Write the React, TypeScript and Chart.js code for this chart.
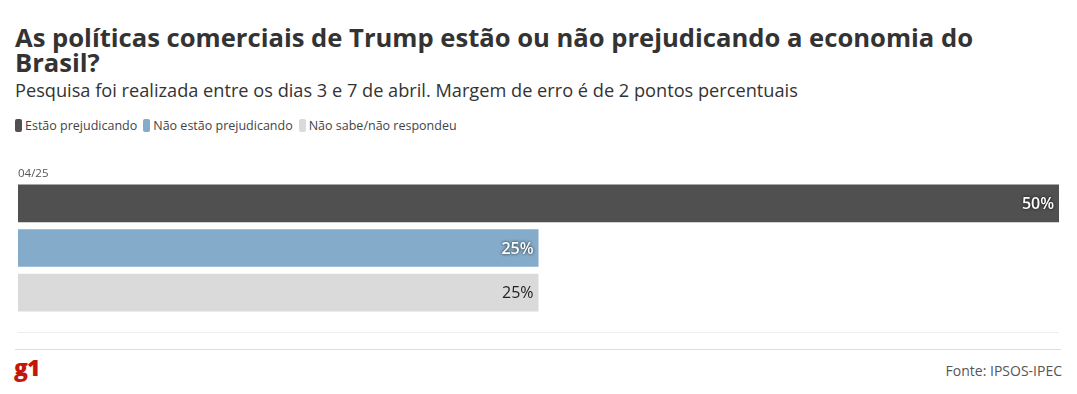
import React, { useEffect, useRef } from "react";
import { Chart, registerables } from "chart.js";

Chart.register(...registerables);

const title = "As políticas comerciais de Trump estão ou não prejudicando a economia do Brasil?";
const subtitle = "Pesquisa foi realizada entre os dias 3 e 7 de abril. Margem de erro é de 2 pontos percentuais";
const categories = ["04/25"];
const seriesNames = ["Estão prejudicando", "Não estão prejudicando", "Não sabe/não respondeu"];
const seriesValues = [[50], [25], [25]];
const seriesColors = ["#505050", "#84abc9", "#dadada"];
const labelColors = ["#ffffff", "#ffffff", "#222222"];
const labelShadow = [true, true, false];
const source = "Fonte: IPSOS-IPEC";

const FONT = "'Open Sans', 'Noto Sans', sans-serif";

const overlayPlugin = {
  id: "overlay",
  afterDatasetsDraw(chart: any) {
    const ctx = chart.ctx;
    const area = chart.chartArea;
    ctx.save();
    ctx.font = `11.5px ${FONT}`;
    ctx.fillStyle = "#555555";
    ctx.textAlign = "left";
    ctx.textBaseline = "alphabetic";
    ctx.fillText(categories[0], area.left, area.top - 4);
    ctx.strokeStyle = "#eeeeee";
    ctx.lineWidth = 1;
    ctx.beginPath();
    ctx.moveTo(area.left, 172.5);
    ctx.lineTo(area.right, 172.5);
    ctx.stroke();
    chart.data.datasets.forEach((ds: any, i: number) => {
      const meta = chart.getDatasetMeta(i);
      meta.data.forEach((bar: any, j: number) => {
        const v = ds.data[j];
        ctx.font = `${labelShadow[i] ? "600" : "400"} 16px ${FONT}`;
        ctx.textAlign = "right";
        ctx.textBaseline = "middle";
        if (labelShadow[i]) {
          ctx.shadowColor = "rgba(0,0,0,0.85)";
          ctx.shadowBlur = 3;
        } else {
          ctx.shadowColor = "transparent";
          ctx.shadowBlur = 0;
        }
        ctx.fillStyle = labelColors[i];
        ctx.fillText(`${v}%`, bar.x - 5, bar.y + 1);
      });
    });
    ctx.restore();
  },
};

export default function App() {
  const ref = useRef<HTMLCanvasElement>(null);
  useEffect(() => {
    if (!ref.current) return;
    const chart = new Chart(ref.current, {
      type: "bar",
      data: {
        labels: categories,
        datasets: seriesNames.map((name, i) => ({
          label: name,
          data: seriesValues[i],
          backgroundColor: seriesColors[i],
          borderWidth: 0,
          barPercentage: 0.845,
          categoryPercentage: 1,
        })),
      },
      options: {
        indexAxis: "y",
        animation: false,
        responsive: false,
        maintainAspectRatio: false,
        layout: { padding: { left: 18, right: 18, top: 21, bottom: 25 } },
        scales: {
          x: { display: false, min: 0, max: 50 },
          y: { display: false },
        },
        plugins: {
          legend: { display: false },
          tooltip: { enabled: false },
        },
      },
      plugins: [overlayPlugin],
    });
    return () => chart.destroy();
  }, []);

  const legendItem = (name: string, color: string) => (
    <div key={name} style={{ display: "flex", alignItems: "center", marginRight: 6 }}>
      <span
        style={{
          display: "inline-block",
          width: 7,
          height: 13,
          borderRadius: 2,
          background: color,
          marginRight: 3,
        }}
      />
      <span>{name}</span>
    </div>
  );

  return (
    <div
      style={{
        position: "absolute",
        left: 0,
        top: 0,
        width: 1077,
        height: 394,
        background: "#fff",
        fontFamily: FONT,
        overflow: "hidden",
      }}
    >
      <div
        style={{
          position: "absolute",
          left: 15,
          top: 25,
          width: 1000,
          fontSize: 25.6,
          fontWeight: 700,
          lineHeight: "25px",
          color: "#333333",
        }}
      >
        {title}
      </div>
      <div
        style={{
          position: "absolute",
          left: 15,
          top: 79,
          fontSize: 18.2,
          lineHeight: "22px",
          color: "#333333",
          whiteSpace: "nowrap",
        }}
      >
        {subtitle}
      </div>
      <div
        style={{
          position: "absolute",
          left: 15,
          top: 117,
          display: "flex",
          fontSize: 12.5,
          lineHeight: "17px",
          color: "#444444",
        }}
      >
        {seriesNames.map((n, i) => legendItem(n, seriesColors[i]))}
      </div>
      <canvas
        ref={ref}
        width={1077}
        height={180}
        style={{ position: "absolute", left: 0, top: 160, width: 1077, height: 180 }}
      />
      <div
        style={{
          position: "absolute",
          left: 15,
          top: 349,
          width: 1046,
          height: 1,
          background: "#dddddd",
        }}
      />
      <div
        style={{
          position: "absolute",
          left: 14,
          top: 352,
          fontSize: 23,
          fontWeight: 800,
          color: "#c4170c",
          letterSpacing: -1,
          lineHeight: "30px",
        }}
      >
        g1
      </div>
      <div
        style={{
          position: "absolute",
          right: 15,
          top: 362,
          fontSize: 14,
          lineHeight: "18px",
          color: "#555555",
        }}
      >
        {source}
      </div>
    </div>
  );
}
